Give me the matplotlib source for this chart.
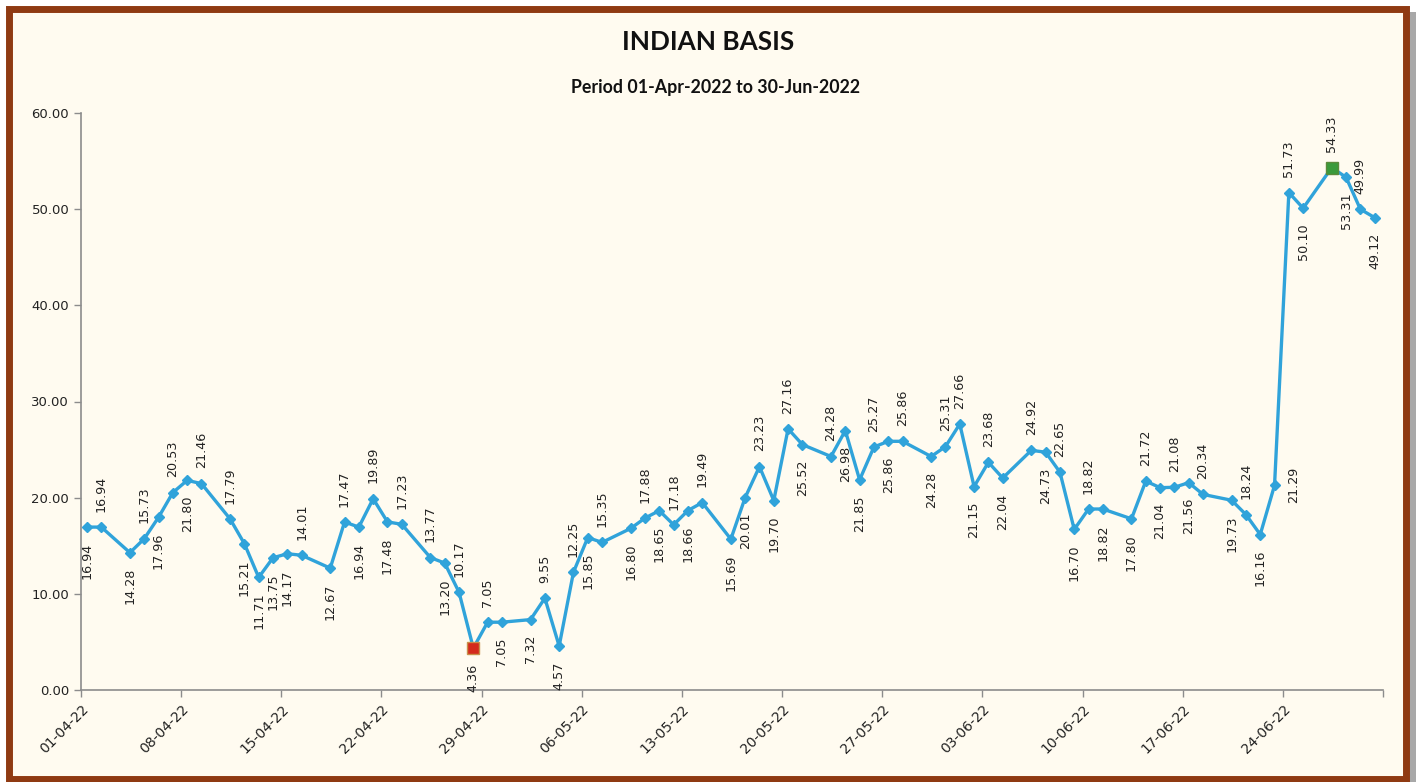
import matplotlib
matplotlib.use("Agg")
import matplotlib.pyplot as plt
import matplotlib.dates as mdates
from matplotlib.patches import Rectangle
import pandas as pd

# ---------------- data ----------------
dates = [
    "2022-04-01", "2022-04-02", "2022-04-04", "2022-04-05", "2022-04-06", "2022-04-07",
    "2022-04-08", "2022-04-09", "2022-04-11", "2022-04-12", "2022-04-13", "2022-04-14",
    "2022-04-15", "2022-04-16", "2022-04-18", "2022-04-19", "2022-04-20", "2022-04-21",
    "2022-04-22", "2022-04-23", "2022-04-25", "2022-04-26", "2022-04-27", "2022-04-28",
    "2022-04-29", "2022-04-30", "2022-05-02", "2022-05-03", "2022-05-04", "2022-05-05",
    "2022-05-06", "2022-05-07", "2022-05-09", "2022-05-10", "2022-05-11", "2022-05-12",
    "2022-05-13", "2022-05-14", "2022-05-16", "2022-05-17", "2022-05-18", "2022-05-19",
    "2022-05-20", "2022-05-21", "2022-05-23", "2022-05-24", "2022-05-25", "2022-05-26",
    "2022-05-27", "2022-05-28", "2022-05-30", "2022-05-31", "2022-06-01", "2022-06-02",
    "2022-06-03", "2022-06-04", "2022-06-06", "2022-06-07", "2022-06-08", "2022-06-09",
    "2022-06-10", "2022-06-11", "2022-06-13", "2022-06-14", "2022-06-15", "2022-06-16",
    "2022-06-17", "2022-06-18", "2022-06-20", "2022-06-21", "2022-06-22", "2022-06-23",
    "2022-06-24", "2022-06-25", "2022-06-27", "2022-06-28", "2022-06-29", "2022-06-30",
]
basis = [
    16.94, 16.94, 14.28, 15.73, 17.96, 20.53,
    21.80, 21.46, 17.79, 15.21, 11.71, 13.75,
    14.17, 14.01, 12.67, 17.47, 16.94, 19.89,
    17.48, 17.23, 13.77, 13.20, 10.17, 4.36,
    7.05, 7.05, 7.32, 9.55, 4.57, 12.25,
    15.85, 15.35, 16.80, 17.88, 18.65, 17.18,
    18.66, 19.49, 15.69, 20.01, 23.23, 19.70,
    27.16, 25.52, 24.28, 26.98, 21.85, 25.27,
    25.86, 25.86, 24.28, 25.31, 27.66, 21.15,
    23.68, 22.04, 24.92, 24.73, 22.65, 16.70,
    18.82, 18.82, 17.80, 21.72, 21.04, 21.08,
    21.56, 20.34, 19.73, 18.24, 16.16, 21.29,
    51.73, 50.10, 54.33, 53.31, 49.99, 49.12,
]
y_ticks = [0, 10, 20, 30, 40, 50, 60]
title = "INDIAN BASIS"
subtitle = "Period 01-Apr-2022 to 30-Jun-2022"

# label placement (a = above, b = below, r = right)
label_side = [
    "b", "a", "b", "a", "b", "a",
    "b", "a", "a", "b", "b", "b",
    "b", "a", "b", "a", "b", "a",
    "b", "a", "a", "b", "a", "b",
    "a", "b", "b", "a", "b", "a",
    "b", "a", "b", "a", "b", "a",
    "b", "a", "b", "b", "a", "b",
    "a", "b", "a", "b", "b", "a",
    "b", "a", "b", "a", "a", "b",
    "a", "b", "a", "b", "a", "b",
    "a", "b", "b", "a", "b", "a",
    "b", "a", "b", "a", "b", "r",
    "a", "b", "a", "b", "a", "b",
]

# ---------------- figure ----------------
W, H = 1416, 782
fig = plt.figure(figsize=(W / 100, H / 100), dpi=100)
fig.patch.set_facecolor("white")

def px(x0, y0, w, h):
    return (x0 / W, 1 - (y0 + h) / H, w / W, h / H)

# shadow, frame and background
x, y, w, h = px(14, 12, 1402, 770)
fig.patches.append(Rectangle((x, y), w, h, transform=fig.transFigure,
                             facecolor="#a8a8a8", edgecolor="none", zorder=-3))
x, y, w, h = px(9, 9, 1397, 770)
fig.patches.append(Rectangle((x, y), w, h, transform=fig.transFigure,
                             facecolor="#fffbf0", edgecolor="#8f3a12",
                             linewidth=5, zorder=-2))

ax = fig.add_axes([81 / W, 1 - 690 / H, (1383 - 81) / W, (690 - 113) / H])
ax.set_facecolor("none")
ax.set_zorder(2)

dt = pd.to_datetime(dates)
xs = mdates.date2num(dt) + 0.42

line_color = "#30a3da"
ax.plot(xs, basis, color=line_color, linewidth=2.4, marker="D",
        markersize=5.5, markerfacecolor=line_color, markeredgecolor=line_color,
        zorder=3)

imin = basis.index(min(basis))
imax = basis.index(max(basis))
ax.plot(xs[imin], basis[imin], marker="s", markersize=8,
        markerfacecolor="#d42a1c", markeredgecolor="#c8904a", zorder=4)
ax.plot(xs[imax], basis[imax], marker="s", markersize=8,
        markerfacecolor="#3a9a3a", markeredgecolor="#5a8a3a", zorder=4)

lab_kw = dict(textcoords="offset points", rotation=90, fontsize=9.2,
              color="#222222", family="DejaVu Sans")
for xi, v, side in zip(xs, basis, label_side):
    txt = f"{v:.2f}"
    if side == "a":
        ax.annotate(txt, (xi, v), xytext=(0, 11), ha="center", va="bottom", **lab_kw)
    elif side == "b":
        ax.annotate(txt, (xi, v), xytext=(0, -11), ha="center", va="top", **lab_kw)
    else:
        ax.annotate(txt, (xi, v), xytext=(9, 0), ha="left", va="center", **lab_kw)

start = pd.Timestamp("2022-04-01")
end = pd.Timestamp("2022-07-01")
ax.set_xlim(mdates.date2num(start), mdates.date2num(end))
ax.set_ylim(0, 60)

tick_dates = pd.date_range(start, end, freq="7D")
ax.set_xticks(mdates.date2num(tick_dates))
ax.set_xticklabels([d.strftime("%d-%m-%y") if d < end else "" for d in tick_dates],
                   rotation=45, ha="right", va="top", rotation_mode="anchor",
                   fontsize=10, family="DejaVu Sans", color="#222222")
ax.set_yticks(y_ticks)
ax.set_yticklabels([f"{v:.2f}" for v in y_ticks], fontsize=9.5,
                   family="DejaVu Sans", color="#222222")

for s in ["top", "right"]:
    ax.spines[s].set_visible(False)
for s in ["left", "bottom"]:
    ax.spines[s].set_color("#8c8c8c")
    ax.spines[s].set_linewidth(1.2)
ax.tick_params(axis="both", direction="out", length=5, width=1, color="#8c8c8c")
ax.tick_params(axis="x", pad=4)

fig.text(708 / W, 1 - 42 / H, title, ha="center", va="center",
         fontsize=18.8, fontweight="bold", family="Lato", color="#111111")
fig.text(716 / W, 1 - 88 / H, subtitle, ha="center", va="center",
         fontsize=12.8, fontweight="bold", family="Lato", color="#111111")

fig.savefig("out.png", dpi=100, facecolor=fig.get_facecolor())
